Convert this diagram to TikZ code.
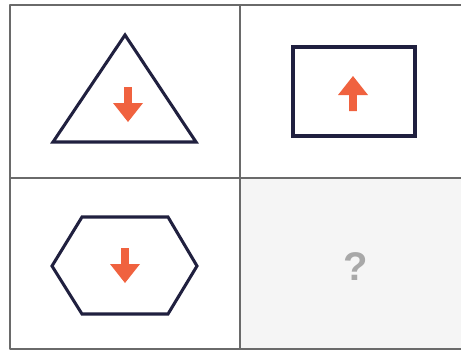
\documentclass[tikz,border=0pt]{standalone}
\usepackage{fontspec}
\setsansfont{Liberation Sans}
\definecolor{rahmen}{HTML}{6A6A6A}
\definecolor{umriss}{HTML}{20203F}
\definecolor{pfeil}{HTML}{F0623F}
\definecolor{leer}{HTML}{F5F5F5}
\definecolor{frage}{HTML}{A8A8A8}
\begin{document}
\begin{tikzpicture}[
  x=0.75pt,
  y=-0.75pt,
  line cap=round,
  line join=round,
  gitter/.style={draw=rahmen, line width=1.2pt, line cap=butt},
  figur/.style={draw=umriss, line width=2.3pt, line join=miter},
  pfeilfuell/.style={fill=pfeil}
]
  \def\sw{3.8}
  \def\hw{15}
  \def\sl{16}
  \def\pl{35}

  \useasboundingbox (0,0) rectangle (461,351);

  % Leeres Feld
  \fill[leer] (240,178) rectangle (461,349);

  % Gitter
  \draw[gitter] (461,5) -- (10,5) -- (10,349) -- (461,349);
  \draw[gitter] (240,5) -- (240,349);
  \draw[gitter] (10,178) -- (461,178);

  % Dreieck
  \draw[figur] (125,35) -- (196,142) -- (53,142) -- cycle;
  \fill[pfeilfuell, shift={(128,87)}]
    (-\sw,0) -- (\sw,0) -- (\sw,\sl) -- (\hw,\sl) -- (0,\pl)
    -- (-\hw,\sl) -- (-\sw,\sl) -- cycle;

  % Rechteck
  \draw[figur] (293,47) rectangle (415,136);
  \fill[pfeilfuell, shift={(353,111)}]
    (-\sw,0) -- (\sw,0) -- (\sw,-\sl) -- (\hw,-\sl) -- (0,-\pl)
    -- (-\hw,-\sl) -- (-\sw,-\sl) -- cycle;

  % Sechseck
  \draw[figur]
    (52,266) -- (82,217) -- (168,217) -- (197,266)
    -- (168,314) -- (82,314) -- cycle;
  \fill[pfeilfuell, shift={(125,248)}]
    (-\sw,0) -- (\sw,0) -- (\sw,\sl) -- (\hw,\sl) -- (0,\pl)
    -- (-\hw,\sl) -- (-\sw,\sl) -- cycle;

  % Fragezeichen
  \node[text=frage, font=\sffamily\bfseries\fontsize{30}{34}\selectfont]
    (frage) at (356,267) {?};
\end{tikzpicture}
\end{document}
